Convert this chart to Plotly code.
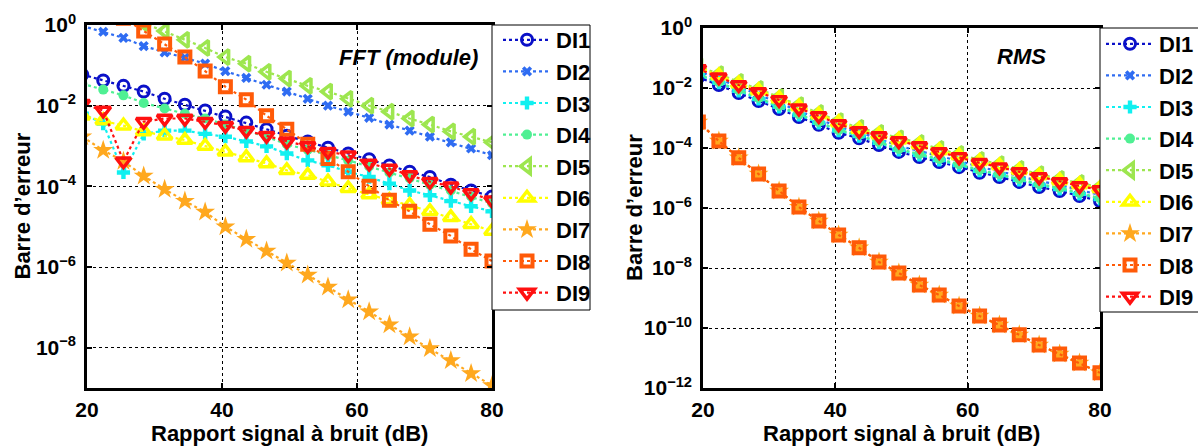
import plotly.graph_objects as go

W, H = 1198, 446

# x values (SNR in dB); first point lies just left of the visible range
snr = [19.3, 22.4, 25.4, 28.4, 31.5, 34.5, 37.5, 40.5, 43.6, 46.6, 49.6,
       52.7, 55.7, 58.7, 61.8, 64.8, 67.8, 70.8, 73.9, 76.9, 80.0]

names = ["DI1", "DI2", "DI3", "DI4", "DI5", "DI6", "DI7", "DI8", "DI9"]

# ---- FFT (module) panel ----
fft_DI1 = [5.9e-2, 4.2e-2, 3.1e-2, 2.24e-2, 1.48e-2, 1.05e-2, 7.6e-3, 5.4e-3, 3.8e-3, 2.6e-3, 1.8e-3,
           1.3e-3, 9.1e-4, 6.5e-4, 4.7e-4, 3.3e-4, 2.3e-4, 1.7e-4, 1.1e-4, 7.9e-5, 5.6e-5]
fft_DI2 = [0.95, 0.68, 0.48, 0.30, 0.21, 0.155, 0.11, 7.2e-2, 4.9e-2, 3.3e-2, 2.24e-2,
           1.48e-2, 1.0e-2, 7.1e-3, 5.0e-3, 3.4e-3, 2.4e-3, 1.7e-3, 1.23e-3, 8.7e-4, 5.9e-4]
fft_DI3 = [6.3e-3, 3.6e-3, 2.2e-4, 2.0e-3, 2.4e-3, 2.4e-3, 2.0e-3, 1.7e-3, 1.3e-3, 9.8e-4, 6.5e-4,
           4.4e-4, 3.3e-4, 2.3e-4, 1.7e-4, 1.17e-4, 7.9e-5, 6.0e-5, 4.3e-5, 3.2e-5, 2.4e-5]
fft_DI4 = [3.5e-2, 2.5e-2, 1.8e-2, 1.17e-2, 8.5e-3, 6.3e-3, 4.8e-3, 3.4e-3, 2.4e-3, 1.7e-3, 1.1e-3,
           8.1e-4, 5.9e-4, 4.4e-4, 3.1e-4, 2.2e-4, 1.6e-4, 1.1e-4, 7.9e-5, 5.6e-5, 3.8e-5]
fft_DI5 = [5.0, 2.75, 1.78, 1.12, 0.71, 0.43, 0.27, 0.16, 0.11, 6.9e-2, 4.7e-2,
           3.1e-2, 2.24e-2, 1.48e-2, 1.0e-2, 7.1e-3, 4.8e-3, 3.4e-3, 2.3e-3, 1.7e-3, 1.23e-3]
fft_DI6 = [5.6e-3, 4.3e-3, 3.2e-3, 2.3e-3, 1.8e-3, 1.4e-3, 1.0e-3, 7.2e-4, 5.2e-4, 3.7e-4, 2.5e-4,
           1.9e-4, 1.3e-4, 8.9e-5, 6.3e-5, 4.5e-5, 3.4e-5, 2.4e-5, 1.7e-5, 1.15e-5, 7.8e-6]
fft_DI7 = [1.7e-3, 7.8e-4, 4.2e-4, 1.8e-4, 8.5e-5, 4.3e-5, 2.3e-5, 1.0e-5, 4.9e-6, 2.5e-6, 1.26e-6,
           6.3e-7, 3.2e-7, 1.55e-7, 7.8e-8, 3.7e-8, 1.86e-8, 9.5e-9, 4.8e-9, 2.3e-9, 1.15e-9]
fft_DI8 = [5.6, 2.75, 1.48, 0.71, 0.34, 0.16, 7.2e-2, 2.95e-2, 1.41e-2, 5.6e-3, 2.6e-3,
           1.1e-3, 4.9e-4, 2.3e-4, 1.0e-4, 4.5e-5, 2.4e-5, 1.15e-5, 5.9e-6, 2.75e-6, 1.4e-6]
fft_DI9 = [1.12e-2, 7.6e-3, 4.2e-4, 4.0e-3, 4.8e-3, 4.8e-3, 4.0e-3, 3.2e-3, 2.4e-3, 1.8e-3, 1.3e-3,
           1.0e-3, 7.2e-4, 5.9e-4, 3.7e-4, 2.75e-4, 1.9e-4, 1.3e-4, 1.0e-4, 6.8e-5, 4.5e-5]

# ---- RMS panel ----
rms_DI1 = [2.3e-2, 1.26e-2, 6.8e-3, 3.7e-3, 2.0e-3, 1.07e-3, 5.9e-4, 3.2e-4, 2.1e-4, 1.26e-4, 7.4e-5,
           5.0e-5, 3.4e-5, 2.3e-5, 1.5e-5, 1.07e-5, 7.4e-6, 5.0e-6, 3.7e-6, 2.5e-6, 1.7e-6]
rms_DI2 = [3.7e-2, 2.0e-2, 1.07e-2, 5.9e-3, 3.2e-3, 1.7e-3, 9.3e-4, 5.0e-4, 3.4e-4, 2.0e-4, 1.17e-4,
           7.9e-5, 5.4e-5, 3.7e-5, 2.35e-5, 1.7e-5, 1.17e-5, 7.9e-6, 5.9e-6, 4.0e-6, 2.7e-6]
rms_DI3 = [2.7e-2, 1.5e-2, 8.0e-3, 4.3e-3, 2.35e-3, 1.26e-3, 6.9e-4, 3.8e-4, 2.5e-4, 1.5e-4, 8.7e-5,
           5.9e-5, 4.0e-5, 2.7e-5, 1.75e-5, 1.26e-5, 8.7e-6, 5.9e-6, 4.3e-6, 2.95e-6, 2.0e-6]
rms_DI4 = [2.9e-2, 1.6e-2, 8.5e-3, 4.7e-3, 2.5e-3, 1.35e-3, 7.4e-4, 4.0e-4, 2.7e-4, 1.6e-4, 9.3e-5,
           6.3e-5, 4.3e-5, 2.9e-5, 1.86e-5, 1.35e-5, 9.3e-6, 6.3e-6, 4.7e-6, 3.2e-6, 2.1e-6]
rms_DI5 = [5.4e-2, 2.9e-2, 1.6e-2, 9.3e-3, 5.0e-3, 2.7e-3, 1.48e-3, 7.9e-4, 4.7e-4, 3.2e-4, 2.1e-4,
           1.48e-4, 9.3e-5, 6.3e-5, 4.0e-5, 2.9e-5, 2.0e-5, 1.35e-5, 9.3e-6, 6.8e-6, 5.0e-6]
rms_DI6 = [4.8e-2, 2.6e-2, 1.4e-2, 8.3e-3, 4.5e-3, 2.4e-3, 1.3e-3, 7.1e-4, 4.2e-4, 2.8e-4, 1.9e-4,
           1.3e-4, 8.3e-5, 5.6e-5, 3.6e-5, 2.6e-5, 1.8e-5, 1.2e-5, 8.3e-6, 6.1e-6, 4.5e-6]
rms_DI7 = [7.4e-4, 1.7e-4, 4.7e-5, 1.35e-5, 3.7e-6, 1.07e-6, 3.7e-7, 1.26e-7, 4.7e-8, 1.6e-8, 6.8e-9,
           2.7e-9, 1.26e-9, 5.4e-10, 2.5e-10, 1.26e-10, 5.9e-11, 2.7e-11, 1.35e-11, 6.8e-12, 3.2e-12]
rms_DI8 = [7.4e-4, 1.7e-4, 4.7e-5, 1.35e-5, 3.7e-6, 1.07e-6, 3.7e-7, 1.26e-7, 4.7e-8, 1.6e-8, 6.8e-9,
           2.7e-9, 1.26e-9, 5.4e-10, 2.5e-10, 1.26e-10, 5.9e-11, 2.7e-11, 1.35e-11, 6.8e-12, 3.2e-12]
rms_DI9 = [4.3e-2, 2.3e-2, 1.26e-2, 7.4e-3, 4.0e-3, 2.1e-3, 1.17e-3, 6.3e-4, 3.7e-4, 2.5e-4, 1.7e-4,
           1.17e-4, 7.4e-5, 5.0e-5, 3.2e-5, 2.3e-5, 1.6e-5, 1.07e-5, 7.4e-6, 5.4e-6, 4.0e-6]

fft_series = [fft_DI1, fft_DI2, fft_DI3, fft_DI4, fft_DI5, fft_DI6, fft_DI7, fft_DI8, fft_DI9]
rms_series = [rms_DI1, rms_DI2, rms_DI3, rms_DI4, rms_DI5, rms_DI6, rms_DI7, rms_DI8, rms_DI9]

x_ticks = [20, 40, 60, 80]
fft_yticks = [1, 1e-2, 1e-4, 1e-6, 1e-8]
fft_ytext = ["10<sup>0</sup>", "10<sup>−2</sup>", "10<sup>−4</sup>", "10<sup>−6</sup>", "10<sup>−8</sup>"]
rms_yticks = [1, 1e-2, 1e-4, 1e-6, 1e-8, 1e-10, 1e-12]
rms_ytext = ["10<sup>0</sup>", "10<sup>−2</sup>", "10<sup>−4</sup>", "10<sup>−6</sup>",
             "10<sup>−8</sup>", "10<sup>−10</sup>", "10<sup>−12</sup>"]

colors = ["#0a10c8", "#2f6cf2", "#10f0f0", "#4ff093", "#9de64f",
          "#ffff00", "#ffa81e", "#ff5a08", "#ff1010"]
symbols = ["circle-open", "x", "cross", "circle", "triangle-left-open",
           "triangle-up-open", "star", "square-open", "triangle-down-open"]
sizes = [11, 9, 11, 10, 13, 13, 15, 11, 13]
mlw = [3, 0, 0, 0, 3.5, 3.5, 0, 4, 3.5]

FONT = "Liberation Sans, Arial, sans-serif"

fig = go.Figure()

for i, nm in enumerate(names):
    for panel, series, xa, ya, lg in (("fft", fft_series, "x", "y", "legend"),
                                      ("rms", rms_series, "x2", "y2", "legend2")):
        fig.add_trace(go.Scatter(
            x=snr, y=series[i], name=nm, xaxis=xa, yaxis=ya, legend=lg,
            legendgroup=panel + nm,
            mode="lines+markers",
            line=dict(color=colors[i], width=2.2, dash="dot"),
            marker=dict(symbol=symbols[i], size=sizes[i], color=colors[i],
                        line=dict(color=colors[i], width=mlw[i])),
            cliponaxis=True,
        ))

# panel geometry (pixels)
L1, R1, T1, B1 = 87, 492, 25, 388
L2, R2, T2, B2 = 703, 1100, 28, 388
# legend boxes (pixels)
LG1 = (492, 25, 590, 310)
LG2 = (1100, 28, 1199, 312)


def px_x(v):
    return v / W


def px_y(v):
    return 1 - v / H


axis_common = dict(
    showline=True, linecolor="black", linewidth=2.5, mirror="ticks",
    ticks="inside", ticklen=5, tickwidth=2, tickcolor="black",
    showgrid=True, gridcolor="black", gridwidth=1.4, griddash="dot",
    zeroline=False, automargin=False,
    tickfont=dict(family=FONT, size=21, color="black", weight="bold"),
)

legend_common = dict(
    bgcolor="rgba(0,0,0,0)", borderwidth=0,
    font=dict(family=FONT, size=22, color="black", weight="bold"),
    tracegroupgap=0, itemwidth=48, xanchor="left", yanchor="top",
)

fig.update_layout(
    width=W, height=H,
    margin=dict(l=0, r=0, t=0, b=0, autoexpand=False),
    paper_bgcolor="white", plot_bgcolor="white",
    font=dict(family=FONT, color="black"),
    xaxis=dict(domain=[px_x(L1), px_x(R1)], anchor="y", range=[20, 80], tickvals=x_ticks,
               ticklabelstandoff=1, **axis_common),
    yaxis=dict(domain=[px_y(B1), px_y(T1)], anchor="x", type="log", range=[-9, 0],
               tickvals=fft_yticks, ticktext=fft_ytext, ticklabelstandoff=4, **axis_common),
    xaxis2=dict(domain=[px_x(L2), px_x(R2)], anchor="y2", range=[20, 80], tickvals=x_ticks,
                ticklabelstandoff=1, **axis_common),
    yaxis2=dict(domain=[px_y(B2), px_y(T2)], anchor="x2", type="log", range=[-12, 0],
                tickvals=rms_yticks, ticktext=rms_ytext, ticklabelstandoff=4, **axis_common),
    legend=dict(x=px_x(LG1[0] + 6), y=px_y(19), **legend_common),
    legend2=dict(x=px_x(LG2[0] + 1), y=px_y(23), **legend_common),
    showlegend=True,
)

fig.update_layout(shapes=[
    dict(type="rect", xref="paper", yref="paper", layer="above",
         x0=px_x(b[0]), y0=px_y(b[3]), x1=px_x(b[2]), y1=px_y(b[1]),
         fillcolor="white", line=dict(color="black", width=1))
    for b in (LG1, LG2)
])

title_font = dict(family=FONT, size=22, color="black", weight="bold")
label_font = dict(family=FONT, size=22, color="black", weight="bold", style="italic")


def ann(text, xpx, ypx, font, angle=0):
    return dict(text=text, x=px_x(xpx), y=px_y(ypx), xref="paper", yref="paper",
                xanchor="center", yanchor="middle", textangle=angle,
                showarrow=False, font=font)


fig.update_layout(annotations=[
    ann("Rapport signal à bruit (dB)", (L1 + R1) / 2, 433, title_font),
    ann("Rapport signal à bruit (dB)", (L2 + R2) / 2, 433, title_font),
    ann("Barre d’erreur", 22, (T1 + B1) / 2, title_font, -90),
    ann("Barre d’erreur", 634, (T2 + B2) / 2, title_font, -90),
    ann("FFT (module)", 408, 57, label_font),
    ann("RMS", 1021, 56, label_font),
])

fig.write_html("out.html", config={"displayModeBar": False},
               post_script="document.body.style.margin='0';")
